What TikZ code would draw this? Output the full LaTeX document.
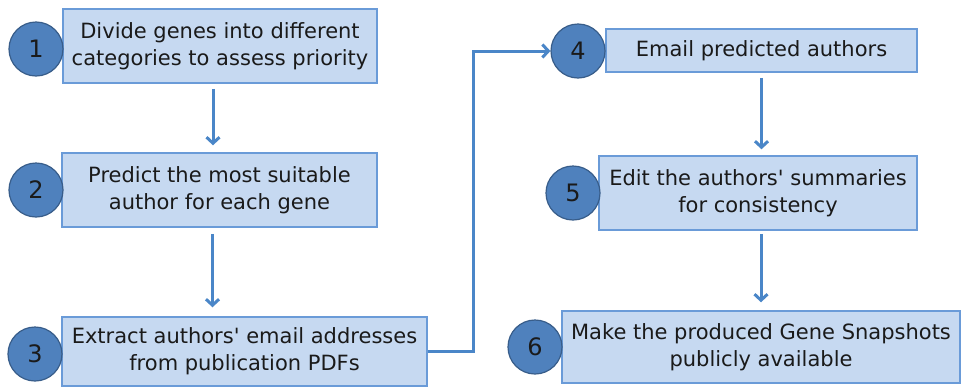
\documentclass[tikz,border=0pt]{standalone}
\usepackage{fontspec}
\setmainfont{DejaVu Sans}
\usetikzlibrary{arrows.meta, positioning, calc}
\definecolor{boxfill}{HTML}{C6D9F1}
\definecolor{boxline}{HTML}{6A9BD8}
\definecolor{numfill}{HTML}{4F81BD}
\definecolor{numline}{HTML}{385D8A}
\definecolor{flowcolor}{HTML}{4A86C8}
\definecolor{textcolor}{HTML}{1A1A1A}

\begin{document}
\begin{tikzpicture}[
    x=1pt, y=-1pt,
    stepbox/.style={rectangle, draw=boxline, fill=boxfill, line width=1.5pt, align=center, inner sep=0pt,
        text=textcolor, font=\fontsize{21}{27}\selectfont},
    number/.style={circle, draw=numline, fill=numfill, line width=1.2pt, minimum size=54pt, inner sep=0pt,
        text=textcolor, font=\fontsize{24}{24}\selectfont},
    flow/.style={-{Straight Barb[length=6pt, width=13pt, line width=3pt]}, draw=flowcolor, line width=3pt},
]
\useasboundingbox[fill=white] (0,0) rectangle (961,386);

\node[stepbox, minimum width=314pt, minimum height=74pt] (box1) at (220, 46) {Divide genes into different\\categories to assess priority};
\node[stepbox, minimum width=315pt, minimum height=74pt] (box2) at (219.5, 190) {Predict the most suitable\\author for each gene};
\node[stepbox, minimum width=365pt, minimum height=69pt] (box3) at (244.5, 351.5) {Extract authors\textquotesingle\ email addresses\\from publication PDFs};
\node[stepbox, minimum width=311pt, minimum height=43pt] (box4) at (761.5, 50.5) {Email predicted authors};
\node[stepbox, minimum width=318pt, minimum height=74pt] (box5) at (758, 193) {Edit the authors\textquotesingle\ summaries\\for consistency};
\node[stepbox, minimum width=398pt, minimum height=72pt] (box6) at (761, 347) {Make the produced Gene Snapshots\\publicly available};

\node[number] (num1) at (36, 49) {1};
\node[number] (num2) at (36, 190) {2};
\node[number] (num3) at (35, 354) {3};
\node[number] (num4) at (578, 51) {4};
\node[number] (num5) at (573, 193) {5};
\node[number] (num6) at (535, 347) {6};

\draw[flow, shorten <=5pt, shorten >=7pt] ([xshift=-7pt]box1.south) -- ([xshift=-7pt]box1.south |- box2.north);
\draw[flow, shorten <=6pt, shorten >=9pt] ([xshift=-7pt]box2.south) -- ([xshift=-7pt]box2.south |- box3.north);
\draw[flow] (box3.east) -- ++(46,0) |- (num4.west);
\draw[flow, shorten <=5pt, shorten >=6pt] (box4.south) -- (box4.south |- box5.north);
\draw[flow, shorten <=3pt, shorten >=8pt] ([xshift=3pt]box5.south) -- ([xshift=3pt]box5.south |- box6.north);

\end{tikzpicture}
\end{document}
